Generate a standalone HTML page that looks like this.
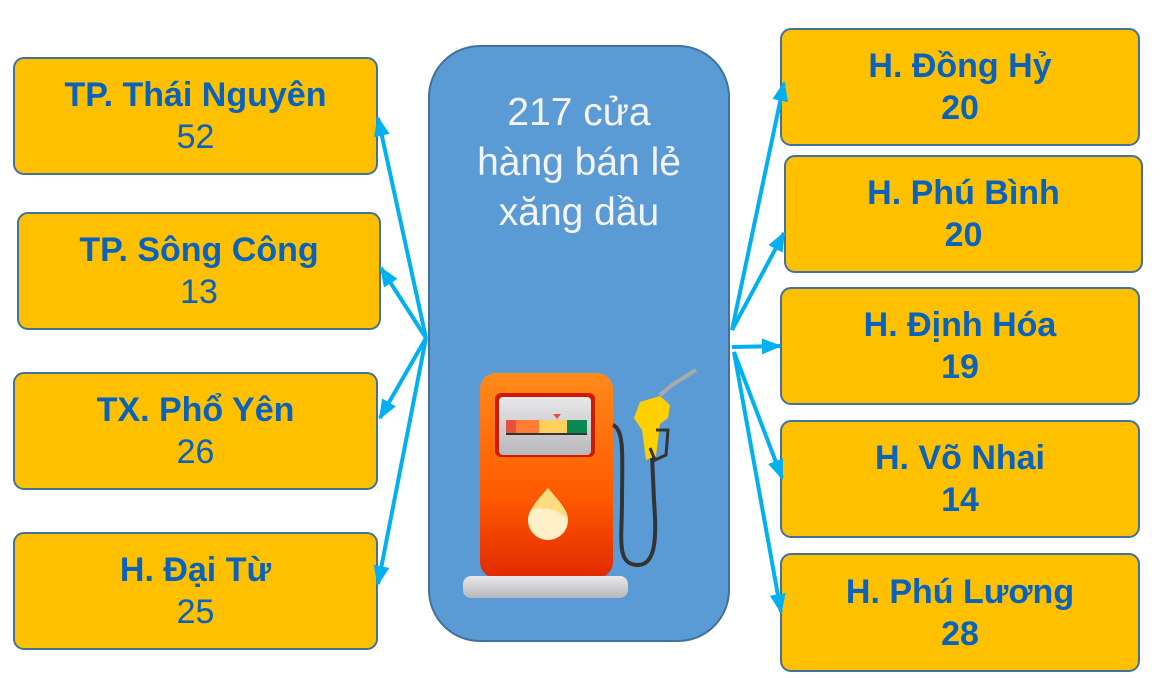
<!DOCTYPE html>
<html><head><meta charset="utf-8"><style>
body{margin:0;width:1160px;height:699px;background:#fff;position:relative;overflow:hidden;font-family:"Liberation Sans",sans-serif}
.b{position:absolute;background:#ffc000;border:2px solid #41719c;border-radius:11px;box-sizing:border-box;color:#0962bb;text-align:center;font-size:34px;line-height:42px;display:flex;flex-direction:column;justify-content:center}
.b b{font-weight:bold}
.c{position:absolute;left:428px;top:45px;width:302px;height:597px;background:#5b9bd5;border:2px solid #41719c;border-radius:52px;box-sizing:border-box;color:#f4f4f4;font-size:39px;line-height:50px;text-align:center;padding-top:41px}
svg{position:absolute;left:0;top:0}
</style></head><body>
<div class="b" style="left:13px;top:57px;width:365px;height:118px"><b>TP. Thái Nguyên</b><span>52</span></div>
<div class="b" style="left:17px;top:212px;width:364px;height:118px"><b>TP. Sông Công</b><span>13</span></div>
<div class="b" style="left:13px;top:372px;width:365px;height:118px"><b>TX. Phổ Yên</b><span>26</span></div>
<div class="b" style="left:13px;top:532px;width:365px;height:118px"><b>H. Đại Từ</b><span>25</span></div>
<div class="b" style="left:780px;top:28px;width:360px;height:118px"><b>H. Đồng Hỷ</b><b>20</b></div>
<div class="b" style="left:784px;top:155px;width:359px;height:118px"><b>H. Phú Bình</b><b>20</b></div>
<div class="b" style="left:780px;top:287px;width:360px;height:118px"><b>H. Định Hóa</b><b>19</b></div>
<div class="b" style="left:780px;top:420px;width:360px;height:118px"><b>H. Võ Nhai</b><b>14</b></div>
<div class="b" style="left:780px;top:553px;width:360px;height:119px"><b>H. Phú Lương</b><b>28</b></div>
<div class="c">217 cửa<br>hàng bán lẻ<br>xăng dầu</div>
<svg width="1160" height="699">
<defs>
<marker id="m" markerWidth="20" markerHeight="16" refX="18" refY="8" orient="auto" markerUnits="userSpaceOnUse"><path d="M0,0L20,8L0,16z" fill="#00b0f0"/></marker>
<linearGradient id="og" x1="0" y1="0" x2="0" y2="1"><stop offset="0" stop-color="#ff8a1a"/><stop offset="0.6" stop-color="#ff5a00"/><stop offset="1" stop-color="#e02a00"/></linearGradient>
<linearGradient id="gg" x1="0" y1="0" x2="0" y2="1"><stop offset="0" stop-color="#e8e8ea"/><stop offset="1" stop-color="#b8b8bc"/></linearGradient>
</defs>
<g stroke="#00b0f0" stroke-width="4" fill="none" marker-end="url(#m)">
<line x1="426" y1="338" x2="378" y2="118"/>
<line x1="426" y1="338" x2="381" y2="268"/>
<line x1="426" y1="338" x2="380" y2="418"/>
<line x1="426" y1="338" x2="378" y2="584"/>
<line x1="732" y1="330" x2="784" y2="83"/>
<line x1="732" y1="330" x2="784" y2="233"/>
<line x1="732" y1="347" x2="780" y2="346"/>
<line x1="734" y1="352" x2="782" y2="478"/>
<line x1="734" y1="352" x2="781" y2="612"/>
</g>
<rect x="480" y="373" width="133" height="205" rx="16" fill="url(#og)"/>
<rect x="495" y="393" width="100" height="64" rx="6" fill="#d01a00"/>
<rect x="499" y="397" width="92" height="58" rx="4" fill="url(#gg)"/>
<rect x="506" y="420" width="10" height="13" fill="#e8503e"/>
<rect x="516" y="420" width="23" height="13" fill="#ff7c34"/>
<rect x="539" y="420" width="28" height="13" fill="#ffd060"/>
<rect x="567" y="420" width="20" height="13" fill="#0a8a50"/>
<rect x="506" y="433" width="81" height="2" fill="#333"/>
<path d="M553,414L561,414L557,419z" fill="#e8503e"/>
<path d="M548,488C558,500 568,510 568,520C568,532 558,540 548,540C538,540 528,532 528,520C528,510 538,500 548,488z" fill="#fff0c8"/>
<path d="M548,488C558,500 568,510 568,520C562,512 546,505 531,510C535,502 542,495 548,488z" fill="#ffdc80"/>
<rect x="463" y="576" width="165" height="22" rx="8" fill="url(#gg)"/>
<path d="M613,425C625,430 622,460 622,500C622,540 616,565 638,565C658,565 656,530 654,500L652,455" stroke="#333" stroke-width="4" fill="none"/>
<path d="M660,395L672,385L696,370" stroke="#aaa" stroke-width="4" fill="none"/>
<path d="M640,402L660,396L670,405L668,418L660,424L656,456L646,460L642,430L634,418z" fill="#ffd000"/>
<path d="M656,430L668,430L666,455L655,460L650,448" stroke="#333" stroke-width="3" fill="none"/>
</svg>
</body></html>
